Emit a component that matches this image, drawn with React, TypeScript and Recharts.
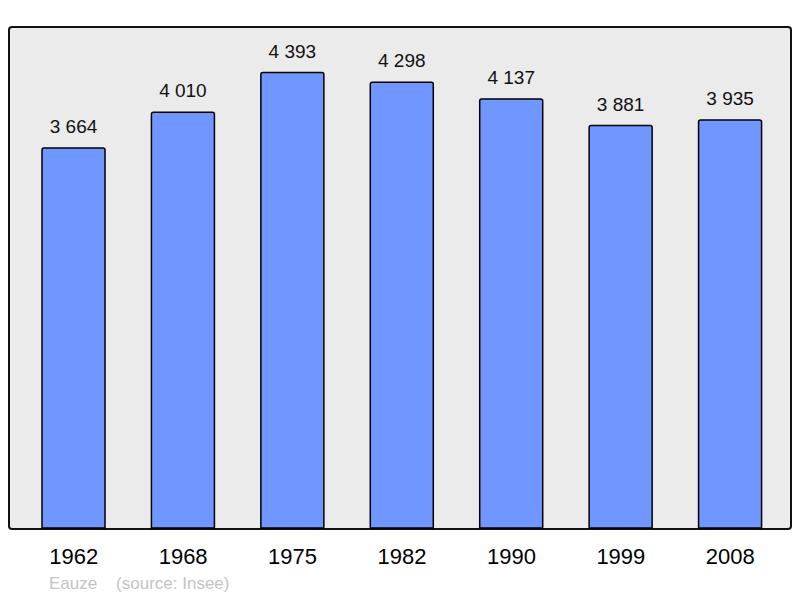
import React from "react";
import { Bar, BarChart, LabelList, XAxis, YAxis } from "recharts";

const years = ["1962", "1968", "1975", "1982", "1990", "1999", "2008"];
const population = [3664, 4010, 4393, 4298, 4137, 3881, 3935];
const townName = "Eauze";
const sourceNote = "(source: Insee)";

const data = years.map((year, i) => ({ year, population: population[i] }));

const W = 800;
const H = 598;
const font = "'Liberation Sans', Arial, sans-serif";

const fmt = (v: number) => {
  const s = String(v);
  return s.length > 3 ? s.slice(0, s.length - 3) + " " + s.slice(-3) : s;
};

export default function App() {
  return (
    <div style={{ position: "absolute", left: 0, top: 0, width: W, height: H, background: "#fff", fontFamily: font }}>
      {/* plot frame */}
      <div
        style={{
          position: "absolute",
          left: 8,
          top: 26,
          width: 780,
          height: 500,
          background: "#ebebeb",
          border: "2px solid #111",
          borderRadius: 4,
        }}
      />
      <div style={{ position: "absolute", left: 0, top: 0 }}>
        <BarChart width={W} height={H} data={data} margin={{ top: 27, right: 10, bottom: 40, left: 9 }}>
          <XAxis
            dataKey="year"
            height={30}
            axisLine={false}
            tickLine={false}
            padding={{ left: 10, right: 5 }}
            tick={{ fontSize: 22, fill: "#000", fontFamily: font }}
            dy={12}
          />
          <YAxis hide domain={[0, 4832]} />
          <Bar
            dataKey="population"
            fill="#7097ff"
            stroke="#000"
            strokeWidth={1.5}
            barSize={63}
            radius={[2, 2, 0, 0]}
            isAnimationActive={false}
          >
            <LabelList
              dataKey="population"
              position="top"
              offset={15}
              formatter={(v: any) => fmt(Number(v))}
              style={{ fontSize: 19, fill: "#111", fontFamily: font }}
            />
          </Bar>
        </BarChart>
      </div>
      <div style={{ position: "absolute", left: 49, top: 574, fontSize: 17, color: "#c4c4c4", whiteSpace: "pre" }}>
        {townName + "    " + sourceNote}
      </div>
    </div>
  );
}
